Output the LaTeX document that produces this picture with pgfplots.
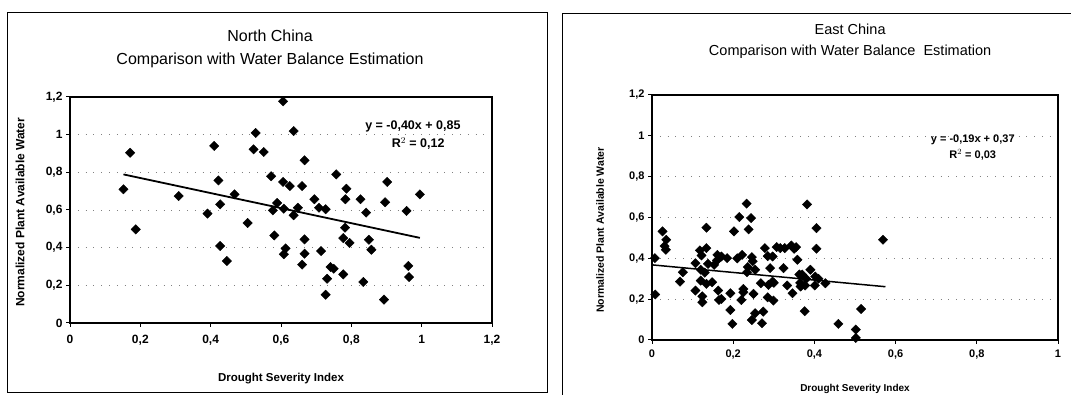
\documentclass[border=0pt]{standalone}
\usepackage{fontspec}
\setmainfont{Liberation Sans}
\usepackage{pgfplots}
\pgfplotsset{compat=1.18}
\begin{document}
\begin{tikzpicture}
\useasboundingbox (0,0) rectangle (1071pt,395pt);
\fill[white] (0,0) rectangle (1071pt,395pt);
\draw[line width=0.8pt] (7pt,3pt) rectangle (547pt,383pt);
\draw[line width=0.8pt] (562pt,0pt) -- (562pt,382pt) -- (1071pt,382pt);
\pgfplotsset{common/.style={
  scale only axis, anchor=south west,
  axis line style={line width=1.5pt},
  tick style={line width=1pt, black},
  tick align=outside, major tick length=4pt,
  tick pos=left,
  ymajorgrids,
  major grid style={gray, dash pattern=on 0.8pt off 7pt},
  /pgf/number format/assume math mode=true,
  /pgf/number format/use comma,
  ymin=0, ymax=1.2,
  ytick={0,0.2,0.4,0.6,0.8,1,1.2},
  clip=false,
}}
% ---------------- North China ----------------
\begin{axis}[common,
  at={(70pt,72pt)}, width=422pt, height=226pt,
  xmin=0, xmax=1.2,
  xtick={0,0.2,0.4,0.6,0.8,1,1.2},
  ticklabel style={font=\bfseries\fontsize{12}{13}\selectfont},
  xticklabel style={yshift=-5pt},
  title={North China\\Comparison with Water Balance Estimation},
  title style={align=center, at={(axis description cs:0.474,1.185)}, anchor=center,
    font=\fontsize{16}{23}\selectfont},
  xlabel={Drought Severity Index},
  xlabel style={at={(axis description cs:0.5,-0.245)}, anchor=center,
    font=\bfseries\fontsize{11.5}{13}\selectfont},
  ylabel={Normalized Plant Available Water},
  ylabel style={at={(axis description cs:-0.118,0.49)}, anchor=center, rotate=0,
    font=\bfseries\fontsize{12}{13}\selectfont},
]
\addplot[only marks, mark=square*, mark size=3.3pt, mark options={rotate=45, black}] coordinates {
(0.152,0.710) (0.171,0.904) (0.187,0.497) (0.309,0.674) (0.391,0.581)
(0.410,0.940) (0.422,0.757) (0.427,0.630) (0.427,0.409) (0.446,0.329)
(0.468,0.683) (0.505,0.531) (0.522,0.922) (0.528,1.009) (0.551,0.908)
(0.572,0.779) (0.577,0.598) (0.581,0.465) (0.589,0.637) (0.606,0.749)
(0.608,0.607) (0.606,1.177) (0.608,0.365) (0.613,0.396) (0.625,0.727)
(0.636,1.019) (0.636,0.572) (0.648,0.612) (0.660,0.727) (0.660,0.310)
(0.667,0.864) (0.667,0.444) (0.667,0.368) (0.695,0.657) (0.708,0.612)
(0.714,0.382) (0.727,0.604) (0.731,0.235) (0.727,0.150) (0.741,0.297)
(0.750,0.288) (0.757,0.789) (0.777,0.258) (0.777,0.451) (0.782,0.506)
(0.783,0.657) (0.786,0.713) (0.795,0.425) (0.826,0.657) (0.834,0.218)
(0.842,0.586) (0.850,0.442) (0.857,0.389) (0.893,0.124) (0.896,0.641)
(0.902,0.749) (0.957,0.595) (0.962,0.303) (0.964,0.244) (0.995,0.683)
};
\addplot[black, line width=1.8pt] coordinates {(0.152,0.789) (0.995,0.452)};
\node[font=\bfseries\fontsize{12.5}{14}\selectfont] at (axis cs:0.975,1.046) {y = -0,40x + 0,85};
\node[font=\bfseries\fontsize{12.5}{14}\selectfont] at (axis cs:0.99,0.951) {R$^2$ = 0,12};
\end{axis}
% ---------------- East China ----------------
\begin{axis}[common,
  at={(652pt,55pt)}, width=406pt, height=245pt,
  xmin=0, xmax=1,
  xtick={0,0.2,0.4,0.6,0.8,1},
  ticklabel style={font=\bfseries\fontsize{11}{12}\selectfont},
  xticklabel style={yshift=-2pt},
  title={East China\\Comparison with Water Balance\ \ Estimation},
  title style={align=center, at={(axis description cs:0.488,1.195)}, anchor=center,
    font=\fontsize{14.5}{21}\selectfont},
  xlabel={Drought Severity Index},
  xlabel style={at={(axis description cs:0.5,-0.2)}, anchor=center,
    font=\bfseries\fontsize{10}{12}\selectfont},
  ylabel={Normalized Plant Available Water},
  ylabel style={at={(axis description cs:-0.128,0.449)}, anchor=center, rotate=0,
    font=\bfseries\fontsize{10.5}{12}\selectfont},
]
\addplot[only marks, mark=square*, mark size=3.3pt, mark options={rotate=45, black}] coordinates {
(0.007,0.401) (0.008,0.223) (0.026,0.532) (0.035,0.491) (0.031,0.460)
(0.034,0.442) (0.069,0.286) (0.076,0.332) (0.107,0.376) (0.107,0.242)
(0.118,0.439) (0.122,0.414) (0.120,0.344) (0.120,0.291) (0.124,0.214)
(0.124,0.185) (0.134,0.450) (0.134,0.550) (0.138,0.373) (0.134,0.275)
(0.148,0.283) (0.153,0.368) (0.161,0.417) (0.163,0.242) (0.165,0.196)
(0.171,0.201) (0.171,0.409) (0.185,0.401) (0.193,0.229) (0.193,0.147)
(0.198,0.079) (0.202,0.532) (0.215,0.602) (0.220,0.196) (0.222,0.417)
(0.225,0.250) (0.225,0.234) (0.233,0.668) (0.236,0.357) (0.238,0.542)
(0.234,0.332) (0.244,0.597) (0.246,0.406) (0.246,0.098) (0.248,0.386)
(0.250,0.226) (0.254,0.344) (0.254,0.131) (0.268,0.278) (0.271,0.082)
(0.274,0.139) (0.278,0.450) (0.285,0.411) (0.287,0.270) (0.285,0.209)
(0.291,0.352) (0.297,0.286) (0.299,0.193) (0.307,0.455) (0.324,0.352)
(0.327,0.450) (0.333,0.267) (0.343,0.463) (0.346,0.229) (0.350,0.447)
(0.358,0.393) (0.363,0.321) (0.366,0.262) (0.376,0.141) (0.382,0.664)
(0.377,0.267) (0.390,0.344) (0.405,0.548) (0.405,0.447) (0.401,0.267)
(0.402,0.311) (0.427,0.278) (0.459,0.079) (0.502,0.051) (0.502,0.010)
(0.515,0.152) (0.569,0.491) (0.370,0.320) (0.380,0.300) (0.410,0.300)
(0.365,0.280) (0.300,0.280) (0.316,0.450) (0.355,0.455) (0.160,0.390)
(0.130,0.330) (0.210,0.400) (0.297,0.409)
};
\addplot[black, line width=1.5pt] coordinates {(0,0.368) (0.575,0.261)};
\node[font=\bfseries\fontsize{11}{12}\selectfont] at (axis cs:0.79,0.979) {y = -0,19x + 0,37};
\node[font=\bfseries\fontsize{11}{12}\selectfont] at (axis cs:0.79,0.906) {R$^2$ = 0,03};
\end{axis}
\end{tikzpicture}
\end{document}
